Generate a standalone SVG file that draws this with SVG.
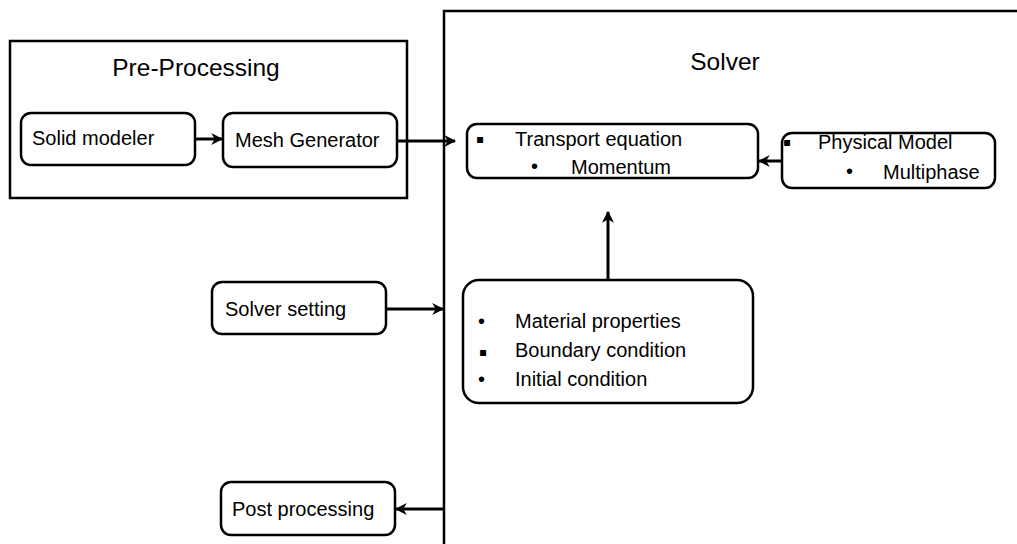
<svg xmlns="http://www.w3.org/2000/svg" width="1017" height="544" viewBox="0 0 1017 544">
<style>
.box{fill:#fff;stroke:#000;stroke-width:2.5}
.frame{fill:none;stroke:#000;stroke-width:2.5}
.t{font-family:"Liberation Sans",Arial,sans-serif;font-size:20px;fill:#000}
.title{font-family:"Liberation Sans",Arial,sans-serif;font-size:24.5px;fill:#000}
.b{font-family:"DejaVu Sans","Liberation Sans",sans-serif;font-size:12px;fill:#000}
.r{font-family:"Liberation Sans",Arial,sans-serif;font-size:20px;fill:#000}
.c{fill:none;stroke:#000;stroke-width:3}
</style>
<defs>
<marker id="ah" viewBox="0 0 10 10" refX="9" refY="5" markerWidth="4" markerHeight="4" orient="auto" markerUnits="strokeWidth">
<path d="M0,0 L10,5 L0,10 L3,5 z" fill="#000"/>
</marker>
</defs>
<rect width="1017" height="544" fill="#fff"/>
<g id="pre-processing">
<rect class="frame" x="10" y="41" width="397" height="157"/>
<text class="title" x="196" y="76" text-anchor="middle">Pre-Processing</text>
</g>
<g id="solver">
<rect class="frame" x="444" y="11" width="620" height="600"/>
<text class="title" x="725" y="70" text-anchor="middle">Solver</text>
</g>
<g id="solid-modeler">
<rect class="box" x="21" y="113" width="174" height="52" rx="10"/>
<text class="t" x="32" y="145">Solid modeler</text>
</g>
<g id="mesh-generator">
<rect class="box" x="223" y="113" width="174" height="54" rx="10"/>
<text class="t" x="235" y="147">Mesh Generator</text>
</g>
<g id="transport">
<rect class="box" x="467" y="124" width="291" height="54" rx="10"/>
<text class="b" x="476" y="143">▪</text>
<text class="t" x="515" y="146">Transport equation</text>
<text class="r" x="531" y="173">•</text>
<text class="t" x="571" y="174">Momentum</text>
</g>
<g id="physical-model">
<rect class="box" x="782" y="133" width="213" height="55" rx="10"/>
<text class="b" x="783" y="146">▪</text>
<text class="t" x="818" y="149">Physical Model</text>
<text class="r" x="846" y="178">•</text>
<text class="t" x="883" y="179">Multiphase</text>
</g>
<g id="solver-setting">
<rect class="box" x="212" y="282" width="174" height="52" rx="10"/>
<text class="t" x="225" y="316">Solver setting</text>
</g>
<g id="conditions">
<rect class="box" x="463" y="280" width="290" height="123" rx="16"/>
<text class="r" x="478" y="328">•</text>
<text class="t" x="515" y="328">Material properties</text>
<text class="b" x="479" y="356">▪</text>
<text class="t" x="515" y="357">Boundary condition</text>
<text class="r" x="478" y="386">•</text>
<text class="t" x="515" y="386">Initial condition</text>
</g>
<g id="post-processing">
<rect class="box" x="221" y="482" width="174" height="53" rx="10"/>
<text class="t" x="232" y="516">Post processing</text>
</g>
<g id="connectors">
<line class="c" x1="195" y1="139" x2="222" y2="139" marker-end="url(#ah)"/>
<line class="c" x1="397" y1="141" x2="455" y2="141" marker-end="url(#ah)"/>
<line class="c" x1="782" y1="161" x2="759" y2="161" marker-end="url(#ah)"/>
<line class="c" x1="608" y1="280" x2="608" y2="212" marker-end="url(#ah)"/>
<line class="c" x1="386" y1="309" x2="443" y2="309" marker-end="url(#ah)"/>
<line class="c" x1="444" y1="509" x2="396" y2="509" marker-end="url(#ah)"/>
</g>
</svg>
